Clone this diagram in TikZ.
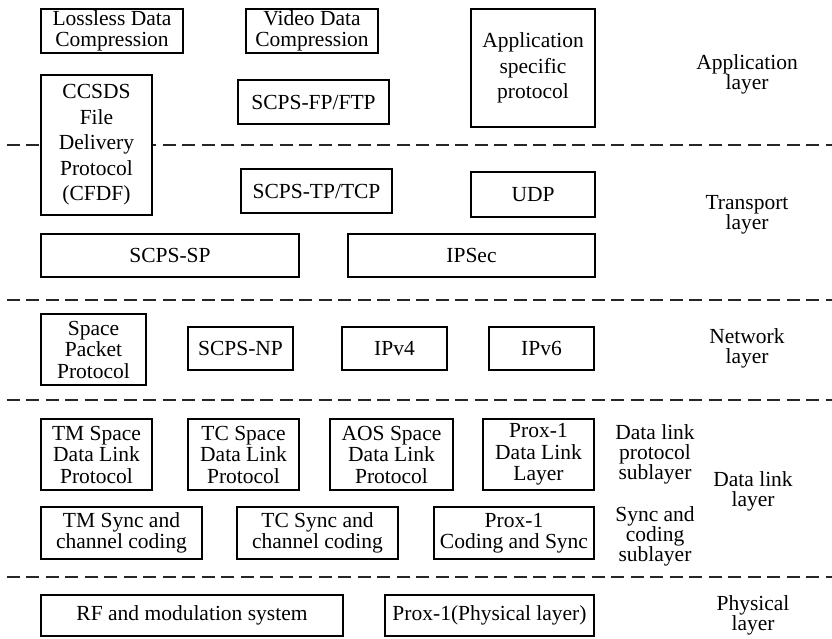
\documentclass[tikz,border=0pt]{standalone}
\usepackage{fontspec}
\setmainfont{Liberation Serif}
\begin{document}
\begin{tikzpicture}[x=1pt,y=-1pt,
  box/.style={draw, line width=1.8pt, fill=white, inner sep=0pt, align=center,
              font=\fontsize{21.5}{21.5}\selectfont},
  tallbox/.style={box, font=\fontsize{21.5}{25.5}\selectfont},
  lbl/.style={align=center, inner sep=0pt, font=\fontsize{21.5}{20}\selectfont},
  layerline/.style={line width=2.8pt, draw=black!85, dash pattern=on 13pt off 6.5pt, dash phase=13pt}]
\useasboundingbox (0,0) rectangle (832,638);

% layer separators
\foreach \n/\y in {a/145, b/300, c/400, d/577} {
  \coordinate (sep\n w) at (0,\y);
  \coordinate (sep\n e) at (832,\y);
  \draw[layerline] (sep\n w) -- (sep\n e);
}

% application layer
\node[box, minimum width=142pt, minimum height=44pt] (lossless) at (112,31) {Lossless Data\\Compression};
\node[box, minimum width=132pt, minimum height=44pt] (video) at (312,31) {Video Data\\Compression};
\node[tallbox, minimum width=124pt, minimum height=118pt] (appspec) at (533,68) {Application\\specific\\protocol};
\node[tallbox, minimum width=111pt, minimum height=140pt] (cfdp) at (96.5,145) {CCSDS\\File\\Delivery\\Protocol\\(CFDF)};
\node[box, minimum width=151pt, minimum height=44pt] (fp) at (313.5,102) {SCPS-FP/FTP};

% transport layer
\node[box, minimum width=151pt, minimum height=44pt] (tp) at (316.5,191) {SCPS-TP/TCP};
\node[box, minimum width=124pt, minimum height=45pt] (udp) at (533,194.5) {UDP};
\node[box, minimum width=258pt, minimum height=43pt] (sp) at (170,255.5) {SCPS-SP};
\node[box, minimum width=247pt, minimum height=43pt] (ipsec) at (471.5,255.5) {IPSec};

% network layer
\node[box, minimum width=105pt, minimum height=71pt] (spp) at (93.5,349.5) {Space\\Packet\\Protocol};
\node[box, minimum width=105pt, minimum height=43pt] (np) at (240.5,348.5) {SCPS-NP};
\node[box, minimum width=105pt, minimum height=43pt] (ipv4) at (394.5,348.5) {IPv4};
\node[box, minimum width=105pt, minimum height=43pt] (ipv6) at (541.5,348.5) {IPv6};

% data link layer
\node[box, minimum width=111pt, minimum height=71pt] (tmdl) at (96.5,454.5) {TM Space\\Data Link\\Protocol};
\node[box, minimum width=111pt, minimum height=71pt] (tcdl) at (243.5,454.5) {TC Space\\Data Link\\Protocol};
\node[box, minimum width=123pt, minimum height=71pt] (aosdl) at (391.5,454.5) {AOS Space\\Data Link\\Protocol};
\node[box, minimum width=111pt, minimum height=71pt] (proxdl) at (538.5,454.5) {Prox-1\\Data Link\\Layer};
\node[box, minimum width=161pt, minimum height=52pt] (tmsync) at (121.5,533) {TM Sync and\\channel coding};
\node[box, minimum width=161pt, minimum height=52pt] (tcsync) at (317.5,533) {TC Sync and\\channel coding};
\node[box, minimum width=160pt, minimum height=52pt] (proxsync) at (514,533) {Prox-1\\Coding and Sync};

% physical layer
\node[box, minimum width=302pt, minimum height=41pt] (rf) at (192,615.5) {RF and modulation system};
\node[box, minimum width=209pt, minimum height=41pt] (proxphy) at (489.5,615.5) {Prox-1(Physical layer)};

% layer names
\node[lbl] (lapp) at (747,74) {Application\\layer};
\node[lbl] (ltrans) at (747,215) {Transport\\layer};
\node[lbl] (lnet) at (747,348) {Network\\layer};
\node[lbl] (ldlp) at (655,454) {Data link\\protocol\\sublayer};
\node[lbl] (ldl) at (753,491) {Data link\\layer};
\node[lbl] (lsync) at (655,536) {Sync and\\coding\\sublayer};
\node[lbl] (lphy) at (753,615) {Physical\\layer};
\end{tikzpicture}
\end{document}
